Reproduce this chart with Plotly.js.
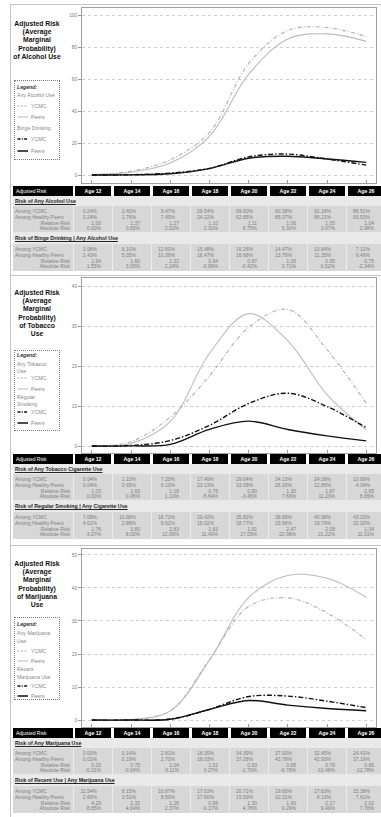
<!DOCTYPE html>
<html><head><meta charset="utf-8">
<script src="https://cdn.plot.ly/plotly-3.0.1.min.js"></script>
<style>
body{margin:0;background:#fff;font-family:"Liberation Sans",Arial,sans-serif;}
#page{position:relative;width:381px;height:817px;overflow:hidden;background:#fff;}
.abs{position:absolute;white-space:nowrap;}
.panel{position:absolute;left:10px;width:372px;border:1.5px solid #c4c4c4;box-sizing:border-box;}
.title{position:absolute;left:4px;width:66px;text-align:center;font-weight:bold;font-size:6.8px;line-height:8.2px;color:#111;}
.legbox{position:absolute;left:14px;width:46px;border:1px dotted #777;box-sizing:border-box;}
.plot{position:absolute;left:0;width:381px;}
svg.samp{display:block;position:absolute;left:0;top:0;}
</style></head><body><div id="page"></div>
<script>
// ---------------- DATA ----------------
var ages = [12, 14, 16, 18, 20, 22, 24, 26];
var ageLabels = ["Age 12", "Age 14", "Age 16", "Age 18", "Age 20", "Age 22", "Age 24", "Age 26"];

// Alcohol
var alcAnyYCMC  = [0.24, 2.40, 9.47, 26.54, 69.60, 90.38, 92.18, 86.51];
var alcAnyPeers = [0.24, 1.76, 7.45, 24.22, 62.85, 85.07, 88.21, 83.53];
var alcAnyRR    = [1.00, 1.37, 1.27, 1.10, 1.11, 1.06, 1.05, 1.04];
var alcAnyAR    = [0.00, 0.65, 2.02, 2.32, 6.75, 5.30, 3.97, 2.98];
var bingeYCMC   = [3.98, 8.10, 12.60, 15.48, 16.26, 14.47, 10.84, 7.12];
var bingePeers  = [2.43, 5.05, 10.36, 16.47, 16.68, 13.76, 11.35, 9.46];
var bingeRR     = [1.64, 1.60, 1.22, 0.94, 0.97, 1.05, 0.95, 0.75];
var bingeAR     = [1.55, 3.05, 2.24, -0.99, -0.42, 0.71, -0.52, -2.34];
// plotted binge curves (overall probability)
var bingeCurveYCMC  = [0.01, 0.19, 1.19, 4.11, 11.32, 13.08, 9.99, 6.16];
var bingeCurvePeers = [0.01, 0.09, 0.77, 3.99, 10.48, 11.71, 10.01, 7.90];

// Tobacco
var tobAnyYCMC  = [0.04, 1.10, 7.20, 17.49, 29.64, 34.13, 24.08, 10.69];
var tobAnyPeers = [0.04, 0.65, 6.10, 23.13, 33.09, 26.30, 12.85, 4.04];
var tobAnyRR    = [1.03, 1.69, 1.18, 0.76, 0.90, 1.30, 1.87, 2.65];
var tobAnyAR    = [0.00, 0.45, 1.10, -5.64, -3.45, 7.83, 11.23, 6.65];
var smokeYCMC   = [7.08, 10.88, 18.71, 29.42, 35.82, 38.68, 40.98, 43.02];
var smokePeers  = [4.01, 2.86, 6.62, 18.02, 18.77, 15.68, 19.74, 32.02];
var smokeRR     = [1.76, 3.80, 2.83, 1.63, 1.91, 2.47, 2.08, 1.34];
var smokeAR     = [3.07, 8.02, 12.09, 11.40, 17.05, 22.98, 21.22, 11.01];
var smokeCurveYCMC  = [0.00, 0.12, 1.35, 5.15, 10.62, 13.20, 9.87, 4.60];
var smokeCurvePeers = [0.00, 0.02, 0.40, 4.17, 6.21, 4.12, 2.54, 1.29];

// Marijuana
var mjAnyYCMC  = [0.00, 0.14, 2.81, 18.30, 34.39, 37.00, 32.45, 24.41];
var mjAnyPeers = [0.01, 0.19, 2.70, 18.03, 37.08, 43.78, 42.93, 37.19];
var mjAnyRR    = [0.33, 0.75, 1.04, 1.01, 0.93, 0.85, 0.76, 0.66];
var mjAnyAR    = [-0.01, -0.04, 0.11, 0.27, -2.70, -6.78, -10.48, -12.78];
var mjRecYCMC  = [11.54, 8.15, 10.87, 17.63, 20.71, 19.60, 17.63, 15.38];
var mjRecPeers = [2.69, 3.51, 8.50, 17.80, 15.93, 10.31, 8.13, 7.61];
var mjRecRR    = [4.29, 2.32, 1.28, 0.99, 1.30, 1.90, 2.17, 2.02];
var mjRecAR    = [8.85, 4.64, 2.37, -0.17, 4.78, 9.29, 9.49, 7.78];
var mjRecCurveYCMC  = [0.00, 0.01, 0.31, 3.23, 7.12, 7.25, 5.72, 3.75];
var mjRecCurvePeers = [0.00, 0.01, 0.23, 3.21, 5.91, 4.51, 3.49, 2.83];

// ---------------- BUILD ----------------
var page = document.getElementById('page');
function el(tag, cls, css, html){
  var d=document.createElement(tag); if(cls) d.className=cls;
  if(css) d.style.cssText=css; if(html!==undefined) d.innerHTML=html;
  page.appendChild(d); return d;
}
// panels
el('div','panel','top:4px;height:272px;');
el('div','panel','top:275px;height:271px;');
el('div','panel','top:545px;height:290px;');

// titles
function title(top, lines){ el('div','title','top:'+top+'px;', lines.join('<br>')); }
title(20, ['Adjusted Risk','(Average','Marginal','Probability)','of Alcohol Use']);
title(289, ['Adjusted Risk','(Average','Marginal','Probability)','of Tobacco','Use']);
title(560, ['Adjusted Risk','(Average','Marginal','Probability)','of Marijuana','Use']);

// legends
var styles = {
  lightdash: {c:'#a8a8a8', w:1, d:'2,1.5'},
  lightsolid:{c:'#b8b8b8', w:1, d:'none'},
  blackdash: {c:'#111', w:1.3, d:'3,1.3,1,1.3'},
  blacksolid:{c:'#111', w:1.5, d:'none'}
};
function legend(boxTop, boxH, items){
  el('div','legbox','top:'+boxTop+'px;height:'+boxH+'px;');
  items.forEach(function(it){
    var y = it[2];
    if(it[0]==='head'){
      el('div','abs','left:17px;top:'+(y-3.5)+'px;font-size:5.2px;line-height:7px;font-weight:bold;font-style:italic;color:#333;', it[1]);
    } else if(it[0]==='text'){
      el('div','abs','left:17px;top:'+(y-3.5)+'px;font-size:5.2px;line-height:7px;color:#888;', it[1]);
    } else {
      var s = styles[it[3]];
      el('div','abs','left:17px;top:'+(y-2)+'px;width:12px;height:4px;line-height:0;font-size:0;',
        '<svg class="samp" width="12" height="4" viewBox="0 0 12 4"><line x1="0.5" y1="2" x2="11" y2="2" stroke="'+s.c+'" stroke-width="'+s.w+'" stroke-dasharray="'+s.d+'"/></svg>');
      el('div','abs','left:31px;top:'+(y-3.5)+'px;font-size:5.2px;line-height:7px;color:#888;', it[1]);
    }
  });
}
legend(80, 80, [['head','Legend:',87],['text','Any Alcohol Use',95],['line','YCMC',106,'lightdash'],['line','Peers',117,'lightsolid'],['text','Binge Drinking',128],['line','YCMC',139,'blackdash'],['line','Peers',151,'blacksolid']]);
legend(350, 81, [['head','Legend:',355],['text','Any Tobacco',364],['text','Use',371],['line','YCMC',378,'lightdash'],['line','Peers',389,'lightsolid'],['text','Regular',397],['text','Smoking',404],['line','YCMC',412,'blackdash'],['line','Peers',423,'blacksolid']]);
legend(617, 83, [['head','Legend:',624],['text','Any Marijuana',633],['text','Use',641],['line','YCMC',651,'lightdash'],['line','Peers',661,'lightsolid'],['text','Recent',669],['text','Marijuana Use',677],['line','YCMC',686,'blackdash'],['line','Peers',696,'blacksolid']]);

// tables
function fmtP(v){ return v.toFixed(2)+'%'; }
function fmtR(v){ return v.toFixed(2); }
function table(H, sections){
  var wrap = el('div','abs','left:0;top:0;width:381px;height:817px;overflow:hidden;pointer-events:none;');
  function cell(x,y,w,h,txt,css){
    var d=document.createElement('div'); d.className='abs';
    d.style.cssText='left:'+x+'px;top:'+y+'px;width:'+w+'px;height:'+h+'px;line-height:'+h+'px;'+(css||'');
    d.innerHTML=txt; wrap.appendChild(d); return d;
  }
  // header
  cell(13,H,60,10,'Adjusted Risk','background:#000;color:#fff;font-size:5px;padding-left:3px;box-sizing:border-box;');
  ageLabels.forEach(function(a,i){
    cell(73+39*i+2,H,36,10,a,'background:#000;color:#fff;font-weight:bold;font-size:5.2px;text-align:center;');
  });
  var y0 = [H+10, H+46];
  sections.forEach(function(sec, si){
    var sy = y0[si];
    var sh = si===0 ? 10 : 12;
    cell(13,sy,372,sh,'','background:#e9e9e9;');
    cell(15,sy,300,sh,sec.title,'font-size:5.3px;font-weight:bold;text-decoration:underline;color:#222;');
    var by = sy+sh;
    cell(13,by,372,27,'','background:#d7d7d7;');
    for(var i=1;i<=8;i++) cell(73+39*i-0.5,by,1,27,'','background:#ececec;');
    cell(73,by,1,27,'','background:#ececec;');
    var labels=['Among YCMC','Among Healthy Peers','Relative Risk','Absolute Risk'];
    sec.rows.forEach(function(r, ri){
      var ry = by+3+5.8*ri;
      if(ri<2) cell(15,ry,60,5.8,labels[ri],'font-size:5px;color:#808080;');
      else cell(13,ry,57,5.8,labels[ri],'font-size:5px;color:#808080;text-align:right;');
      r.forEach(function(v,ci){
        var txt = (ri===2) ? fmtR(v) : fmtP(v);
        var pad = ri<2 ? 15 : 11;
        cell(73+39*ci,ry,39-pad,5.8,txt,'font-size:5px;color:#808080;text-align:right;');
      });
    });
  });
}
table(186, [
  {title:'Risk of Any Alcohol Use', rows:[alcAnyYCMC, alcAnyPeers, alcAnyRR, alcAnyAR]},
  {title:'Risk of Binge Drinking | Any Alcohol Use', rows:[bingeYCMC, bingePeers, bingeRR, bingeAR]}
]);
table(454, [
  {title:'Risk of Any Tobacco Cigarette Use', rows:[tobAnyYCMC, tobAnyPeers, tobAnyRR, tobAnyAR]},
  {title:'Risk of Regular Smoking | Any Cigarette Use', rows:[smokeYCMC, smokePeers, smokeRR, smokeAR]}
]);
table(728, [
  {title:'Risk of Any Marijuana Use', rows:[mjAnyYCMC, mjAnyPeers, mjAnyRR, mjAnyAR]},
  {title:'Risk of Recent Use | Any Marijuana Use', rows:[mjRecYCMC, mjRecPeers, mjRecRR, mjRecAR]}
]);

// charts
function chart(frameTop, plotH, yRange, yTicks, series){
  var d = el('div','plot','top:'+(frameTop-2)+'px;height:'+(plotH+4)+'px;');
  var traces = [
    {x:ages, y:series[0], mode:'lines', line:{color:'#b0b0b0', width:1.1, dash:'4px,2px,1px,2px', shape:'spline', smoothing:1}},
    {x:ages, y:series[1], mode:'lines', line:{color:'#bcbcbc', width:1.1, shape:'spline', smoothing:1}},
    {x:ages, y:series[2], mode:'lines', line:{color:'#111', width:1.4, dash:'5px,2px,1.5px,2px', shape:'spline', smoothing:1}},
    {x:ages, y:series[3], mode:'lines', line:{color:'#111', width:1.4, shape:'spline', smoothing:1}}
  ];
  var layout = {
    width:381, height:plotH+4, margin:{l:82, r:5, t:2, b:2},
    paper_bgcolor:'rgba(0,0,0,0)', plot_bgcolor:'#fff', showlegend:false,
    font:{family:'"Liberation Sans", Arial, sans-serif'},
    xaxis:{range:[11.5,26.5], tickvals:ages, ticks:'inside', ticklen:3, tickcolor:'#999', showticklabels:false,
           showgrid:false, zeroline:false, showline:true, mirror:true, linecolor:'#a0a0a0', linewidth:1, fixedrange:true},
    yaxis:{range:yRange, tickvals:yTicks, ticksuffix:'%', ticks:'outside', ticklen:3, tickcolor:'#999',
           tickfont:{size:4.7, color:'#777'}, showgrid:true, gridcolor:'#cfcfcf', griddash:'dot', gridwidth:1,
           zeroline:false, showline:true, mirror:true, linecolor:'#a0a0a0', linewidth:1, automargin:false, fixedrange:true}
  };
  Plotly.newPlot(d, traces, layout, {staticPlot:true, displayModeBar:false});
}
chart(8, 175, [-5, 104.4], [0,20,40,60,80,100], [alcAnyYCMC, alcAnyPeers, bingeCurveYCMC, bingeCurvePeers]);
chart(278, 175, [-1.75, 42], [0,10,20,30,40], [tobAnyYCMC, tobAnyPeers, smokeCurveYCMC, smokeCurvePeers]);
chart(549, 178, [-2.1, 51.8], [0,10,20,30,40,50], [mjAnyYCMC, mjAnyPeers, mjRecCurveYCMC, mjRecCurvePeers]);
</script></body></html>
